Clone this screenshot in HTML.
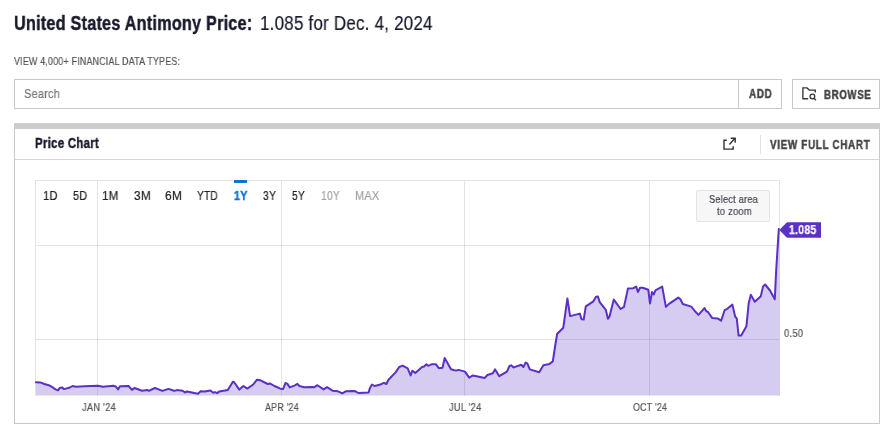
<!DOCTYPE html>
<html><head><meta charset="utf-8"><title>United States Antimony Price</title>
<style>
html,body{margin:0;padding:0;background:#fff;}
body{width:883px;height:429px;position:relative;overflow:hidden;font-family:"Liberation Sans",sans-serif;}
.t{will-change:transform;position:absolute;white-space:pre;line-height:20px;height:20px;transform-origin:0 0;font-weight:normal;}
.t{-webkit-text-stroke:0.2px currentColor;}
.t.b{font-weight:bold;-webkit-text-stroke:0.45px currentColor;}
.box{position:absolute;box-sizing:border-box;}
#search{left:14px;top:79px;width:768px;height:30px;border:1px solid #c9c9c9;background:#fff;}
#adddiv{left:738px;top:79px;width:1px;height:30px;background:#c9c9c9;}
#browse{left:792px;top:79px;width:88px;height:30px;border:1px solid #c9c9c9;background:#fff;}
#panel{left:14px;top:123px;width:866px;height:301px;border:1px solid #c9c9c9;border-top:6px solid #cdcdcd;background:#fff;}
#hdrline{left:15px;top:159px;width:864px;height:1px;background:#d6d6d6;}
#vdiv{left:760px;top:135px;width:1px;height:19px;background:#e2e2e2;}
#zoomhint{left:696px;top:190px;width:74px;height:32px;border:1px solid #e4e4e4;border-radius:2px;background:#f7f7f8;}
#sel{left:234px;top:180px;width:13px;height:3px;background:#1274d0;}
svg{position:absolute;left:0;top:0;}
</style></head><body>
<div class="box" id="search"></div>
<div class="box" id="adddiv"></div>
<div class="box" id="browse"></div>
<div class="box" id="panel"></div>
<div class="box" id="hdrline"></div>
<div class="box" id="vdiv"></div>
<svg width="883" height="429" viewBox="0 0 883 429">
<g stroke="#000" stroke-opacity="0.105" stroke-width="1" fill="none" shape-rendering="crispEdges">
<path d="M35.5,395.5 V180.5 H779.5 V395.5"/>
<path d="M97.5,181 V396 M281.5,181 V396 M464.5,181 V396 M649.5,181 V396"/>
<path d="M36,245.5 H779 M36,339.5 H779"/>
</g>
<path d="M35.9,382.3 L40.2,382.4 L44.4,384.0 L48.7,385.2 L52.1,387.0 L55.5,389.4 L58.0,390.3 L59.7,387.9 L61.9,387.4 L64.0,389.1 L69.9,387.5 L72.5,386.0 L75.9,386.7 L84.4,386.2 L97.9,385.7 L103.0,386.7 L113.2,385.8 L115.8,386.5 L118.0,389.4 L120.0,386.2 L128.5,386.0 L132.0,389.9 L134.5,388.0 L142.1,390.8 L147.2,389.9 L148.9,390.8 L154.9,388.0 L162.5,390.9 L168.4,388.9 L172.0,390.0 L174.2,390.9 L176.8,390.1 L182.7,390.8 L185.0,392.5 L187.0,391.4 L198.0,393.8 L200.6,391.3 L204.8,391.6 L210.4,390.4 L213.3,392.8 L215.0,392.1 L217.2,393.1 L219.3,391.4 L227.8,390.1 L232.9,381.8 L234.2,382.3 L239.3,389.6 L243.4,386.0 L247.3,388.6 L253.2,384.5 L257.0,379.7 L260.0,380.2 L267.7,384.0 L270.2,383.6 L274.5,386.0 L280.4,388.7 L283.0,389.1 L285.5,383.0 L287.2,383.6 L289.8,387.4 L294.9,385.3 L297.4,383.8 L299.4,386.0 L304.2,387.2 L312.0,387.1 L314.4,387.2 L317.5,385.2 L323.6,389.4 L327.0,387.2 L332.9,390.8 L338.0,391.3 L342.3,393.3 L345.7,391.3 L355.0,391.1 L358.4,393.0 L368.6,392.5 L369.8,388.2 L372.0,384.5 L374.5,386.0 L379.6,384.8 L383.9,382.8 L386.4,384.0 L388.5,379.7 L395.8,372.1 L399.2,367.0 L402.6,365.6 L407.7,368.3 L410.6,375.5 L412.4,370.7 L415.3,372.9 L422.1,367.0 L424.1,366.5 L426.4,364.3 L428.1,365.8 L431.5,364.3 L436.0,364.3 L438.8,368.2 L442.5,367.7 L444.7,358.0 L451.0,369.2 L454.4,370.2 L456.8,370.4 L458.5,369.9 L465.0,371.6 L469.2,377.6 L472.9,375.4 L484.8,377.9 L487.4,375.0 L492.8,373.3 L495.0,369.4 L499.3,376.2 L506.9,371.6 L509.5,366.0 L511.2,365.3 L513.7,367.4 L521.3,364.8 L523.4,367.0 L525.6,362.6 L527.3,363.3 L529.8,369.4 L539.2,372.3 L543.4,365.2 L549.4,364.0 L552.8,361.4 L555.0,347.0 L557.1,334.0 L563.3,327.7 L567.4,298.4 L570.1,316.1 L579.8,313.6 L581.5,319.2 L583.7,319.5 L585.8,306.4 L593.4,301.3 L596.0,296.7 L598.0,296.6 L599.7,302.2 L605.8,309.8 L607.9,318.8 L609.5,316.6 L613.8,299.6 L620.6,309.0 L624.0,306.9 L627.9,288.6 L633.3,288.2 L636.2,286.6 L637.9,292.0 L640.1,287.7 L642.7,287.7 L648.3,289.8 L650.0,303.4 L652.0,292.0 L653.7,294.5 L655.4,290.3 L662.2,286.6 L665.9,306.9 L669.0,303.9 L678.3,297.6 L680.4,299.3 L682.8,304.0 L691.3,306.6 L694.8,311.0 L698.4,314.9 L704.5,308.1 L706.2,311.1 L708.0,312.0 L712.3,318.1 L717.6,318.4 L721.1,320.7 L724.6,310.2 L727.2,308.8 L732.4,304.6 L735.1,316.3 L736.8,318.6 L738.6,335.6 L741.2,335.6 L746.4,326.3 L748.7,303.2 L750.8,294.8 L754.8,301.8 L760.8,296.2 L763.0,286.6 L765.1,284.5 L770.0,290.5 L774.8,299.3 L776.2,270.0 L778.8,229.0 L779.5,229 L779.5,395.5 L36,395.5 Z" fill="#5a30c5" fill-opacity="0.25" stroke="none"/>
<path d="M35.9,382.3 L40.2,382.4 L44.4,384.0 L48.7,385.2 L52.1,387.0 L55.5,389.4 L58.0,390.3 L59.7,387.9 L61.9,387.4 L64.0,389.1 L69.9,387.5 L72.5,386.0 L75.9,386.7 L84.4,386.2 L97.9,385.7 L103.0,386.7 L113.2,385.8 L115.8,386.5 L118.0,389.4 L120.0,386.2 L128.5,386.0 L132.0,389.9 L134.5,388.0 L142.1,390.8 L147.2,389.9 L148.9,390.8 L154.9,388.0 L162.5,390.9 L168.4,388.9 L172.0,390.0 L174.2,390.9 L176.8,390.1 L182.7,390.8 L185.0,392.5 L187.0,391.4 L198.0,393.8 L200.6,391.3 L204.8,391.6 L210.4,390.4 L213.3,392.8 L215.0,392.1 L217.2,393.1 L219.3,391.4 L227.8,390.1 L232.9,381.8 L234.2,382.3 L239.3,389.6 L243.4,386.0 L247.3,388.6 L253.2,384.5 L257.0,379.7 L260.0,380.2 L267.7,384.0 L270.2,383.6 L274.5,386.0 L280.4,388.7 L283.0,389.1 L285.5,383.0 L287.2,383.6 L289.8,387.4 L294.9,385.3 L297.4,383.8 L299.4,386.0 L304.2,387.2 L312.0,387.1 L314.4,387.2 L317.5,385.2 L323.6,389.4 L327.0,387.2 L332.9,390.8 L338.0,391.3 L342.3,393.3 L345.7,391.3 L355.0,391.1 L358.4,393.0 L368.6,392.5 L369.8,388.2 L372.0,384.5 L374.5,386.0 L379.6,384.8 L383.9,382.8 L386.4,384.0 L388.5,379.7 L395.8,372.1 L399.2,367.0 L402.6,365.6 L407.7,368.3 L410.6,375.5 L412.4,370.7 L415.3,372.9 L422.1,367.0 L424.1,366.5 L426.4,364.3 L428.1,365.8 L431.5,364.3 L436.0,364.3 L438.8,368.2 L442.5,367.7 L444.7,358.0 L451.0,369.2 L454.4,370.2 L456.8,370.4 L458.5,369.9 L465.0,371.6 L469.2,377.6 L472.9,375.4 L484.8,377.9 L487.4,375.0 L492.8,373.3 L495.0,369.4 L499.3,376.2 L506.9,371.6 L509.5,366.0 L511.2,365.3 L513.7,367.4 L521.3,364.8 L523.4,367.0 L525.6,362.6 L527.3,363.3 L529.8,369.4 L539.2,372.3 L543.4,365.2 L549.4,364.0 L552.8,361.4 L555.0,347.0 L557.1,334.0 L563.3,327.7 L567.4,298.4 L570.1,316.1 L579.8,313.6 L581.5,319.2 L583.7,319.5 L585.8,306.4 L593.4,301.3 L596.0,296.7 L598.0,296.6 L599.7,302.2 L605.8,309.8 L607.9,318.8 L609.5,316.6 L613.8,299.6 L620.6,309.0 L624.0,306.9 L627.9,288.6 L633.3,288.2 L636.2,286.6 L637.9,292.0 L640.1,287.7 L642.7,287.7 L648.3,289.8 L650.0,303.4 L652.0,292.0 L653.7,294.5 L655.4,290.3 L662.2,286.6 L665.9,306.9 L669.0,303.9 L678.3,297.6 L680.4,299.3 L682.8,304.0 L691.3,306.6 L694.8,311.0 L698.4,314.9 L704.5,308.1 L706.2,311.1 L708.0,312.0 L712.3,318.1 L717.6,318.4 L721.1,320.7 L724.6,310.2 L727.2,308.8 L732.4,304.6 L735.1,316.3 L736.8,318.6 L738.6,335.6 L741.2,335.6 L746.4,326.3 L748.7,303.2 L750.8,294.8 L754.8,301.8 L760.8,296.2 L763.0,286.6 L765.1,284.5 L770.0,290.5 L774.8,299.3 L776.2,270.0 L778.8,229.0" fill="none" stroke="#5a30c5" stroke-width="2" stroke-linejoin="round" stroke-linecap="round"/>
<path d="M779.3,230 L787,222.2 H821 V237.8 H787 Z" fill="#5a30c5"/>
<g fill="none" stroke="#383838" stroke-width="1.35">
<path d="M808.2,98.7 H802.9 V87.9 H807 L809.3,90.1 H815.3 V92.6"/>
<circle cx="812.4" cy="96.4" r="2.35"/>
<path d="M814.1,98.2 L815.9,100.3"/>
</g>
<g fill="none" stroke="#333" stroke-width="1.4">
<path d="M726.8,140.2 H724 V149.1 H733.2 V146.2"/>
<path d="M729.4,144.5 L735,138.2 M730.8,138.2 H735.2 V142.8"/>
</g>
</svg>
<div class="box" id="zoomhint"></div>
<div class="box" id="sel"></div>
<span class="t b" style="left:13.79px;top:13.00px;font-size:20px;color:#191a2b;letter-spacing:0.3px;transform:scaleX(0.8093)">United States Antimony Price:</span>
<span class="t " style="left:259.98px;top:13.00px;font-size:20px;color:#191a2b;letter-spacing:0.25px;transform:scaleX(0.8490)">1.085 for Dec. 4, 2024</span>
<span class="t " style="left:14.40px;top:51.00px;font-size:11px;color:#555;letter-spacing:0.25px;transform:scaleX(0.8078)">VIEW 4,000+ FINANCIAL DATA TYPES:</span>
<span class="t " style="left:24.47px;top:84.00px;font-size:13px;color:#74767c;letter-spacing:0.25px;transform:scaleX(0.8415)">Search</span>
<span class="t b" style="left:748.94px;top:84.00px;font-size:12px;color:#444;letter-spacing:0.8px;transform:scaleX(0.8224)">ADD</span>
<span class="t b" style="left:823.65px;top:85.00px;font-size:12px;color:#444;letter-spacing:0.8px;transform:scaleX(0.8062)">BROWSE</span>
<span class="t b" style="left:34.68px;top:133.00px;font-size:14px;color:#191a2b;letter-spacing:0.3px;transform:scaleX(0.8203)">Price Chart</span>
<span class="t b" style="left:770.40px;top:135.00px;font-size:12px;color:#444;letter-spacing:0.8px;transform:scaleX(0.8240)">VIEW FULL CHART</span>
<span class="t " style="left:43.19px;top:186.00px;font-size:12px;color:#222;letter-spacing:0.25px;transform:scaleX(0.9204)">1D</span>
<span class="t " style="left:72.80px;top:186.00px;font-size:12px;color:#222;letter-spacing:0.25px;transform:scaleX(0.8966)">5D</span>
<span class="t " style="left:102.16px;top:186.00px;font-size:12px;color:#222;letter-spacing:0.25px;transform:scaleX(0.9587)">1M</span>
<span class="t " style="left:133.76px;top:186.00px;font-size:12px;color:#222;letter-spacing:0.25px;transform:scaleX(0.9839)">3M</span>
<span class="t " style="left:165.38px;top:186.00px;font-size:12px;color:#222;letter-spacing:0.25px;transform:scaleX(0.9919)">6M</span>
<span class="t " style="left:197.29px;top:186.00px;font-size:12px;color:#222;letter-spacing:0.25px;transform:scaleX(0.8466)">YTD</span>
<span class="t b" style="left:233.83px;top:186.00px;font-size:12px;color:#1274d0;letter-spacing:0.25px;transform:scaleX(0.8929)">1Y</span>
<span class="t " style="left:262.82px;top:186.00px;font-size:12px;color:#222;letter-spacing:0.25px;transform:scaleX(0.8673)">3Y</span>
<span class="t " style="left:292.08px;top:186.00px;font-size:12px;color:#222;letter-spacing:0.25px;transform:scaleX(0.8496)">5Y</span>
<span class="t " style="left:321.00px;top:186.00px;font-size:12px;color:#a0a0a0;letter-spacing:0.25px;transform:scaleX(0.8606)">10Y</span>
<span class="t " style="left:355.34px;top:186.00px;font-size:12px;color:#a0a0a0;letter-spacing:0.25px;transform:scaleX(0.9109)">MAX</span>
<span class="t " style="left:708.83px;top:189.00px;font-size:11px;color:#43454d;letter-spacing:0.25px;transform:scaleX(0.8373)">Select area</span>
<span class="t " style="left:716.89px;top:201.00px;font-size:11px;color:#43454d;letter-spacing:0.25px;transform:scaleX(0.8553)">to zoom</span>
<span class="t b" style="left:788.56px;top:220.00px;font-size:12px;color:#fff;letter-spacing:0.4px;-webkit-text-stroke-width:0.25px;transform:scaleX(0.8590)">1.085</span>
<span class="t " style="left:784.18px;top:323.00px;font-size:11px;color:#555;letter-spacing:0.25px;transform:scaleX(0.8608)">0.50</span>
<span class="t " style="left:81.79px;top:397.00px;font-size:11px;color:#555;letter-spacing:0.25px;transform:scaleX(0.8511)">JAN '24</span>
<span class="t " style="left:265.00px;top:397.00px;font-size:11px;color:#555;letter-spacing:0.25px;transform:scaleX(0.8097)">APR '24</span>
<span class="t " style="left:448.79px;top:397.00px;font-size:11px;color:#555;letter-spacing:0.25px;transform:scaleX(0.8480)">JUL '24</span>
<span class="t " style="left:633.30px;top:397.00px;font-size:11px;color:#555;letter-spacing:0.25px;transform:scaleX(0.8097)">OCT '24</span>
</body></html>
